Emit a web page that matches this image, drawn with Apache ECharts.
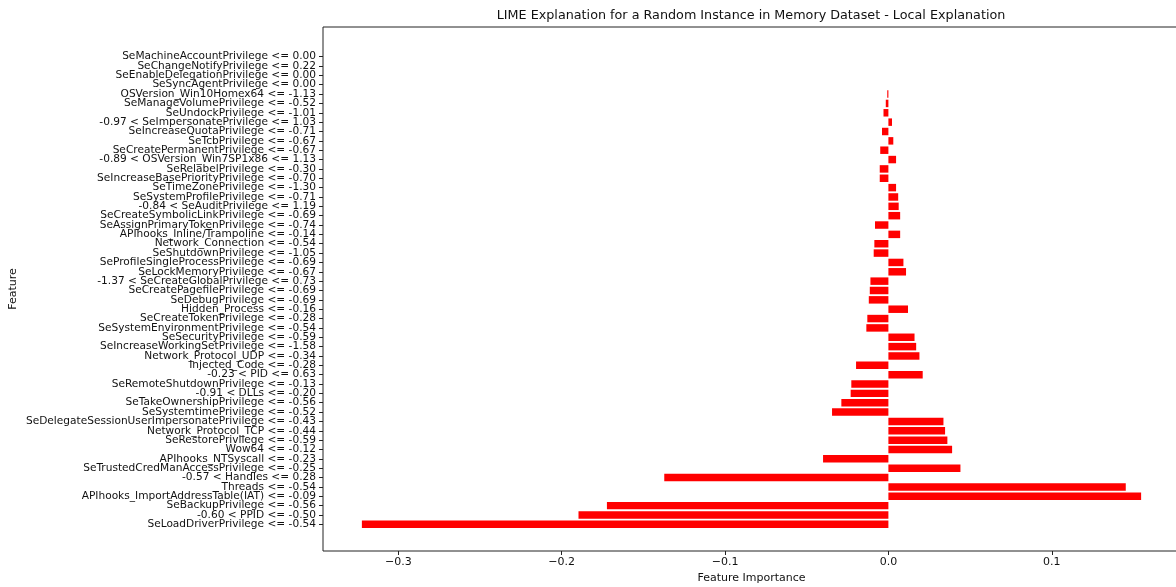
<!DOCTYPE html>
<html>
<head>
<meta charset="utf-8">
<script src="https://cdn.jsdelivr.net/npm/echarts@6/dist/echarts.min.js"></script>
<style>
html,body{margin:0;padding:0;background:#fff;}
#chart{width:1176px;height:587px;}
</style>
</head>
<body>
<div id="chart"></div>
<script>
// Features, top to bottom
var features = [
  "SeMachineAccountPrivilege <= 0.00",
  "SeChangeNotifyPrivilege <= 0.22",
  "SeEnableDelegationPrivilege <= 0.00",
  "SeSyncAgentPrivilege <= 0.00",
  "OSVersion_Win10Homex64 <= -1.13",
  "SeManageVolumePrivilege <= -0.52",
  "SeUndockPrivilege <= -1.01",
  "-0.97 < SeImpersonatePrivilege <= 1.03",
  "SeIncreaseQuotaPrivilege <= -0.71",
  "SeTcbPrivilege <= -0.67",
  "SeCreatePermanentPrivilege <= -0.67",
  "-0.89 < OSVersion_Win7SP1x86 <= 1.13",
  "SeRelabelPrivilege <= -0.30",
  "SeIncreaseBasePriorityPrivilege <= -0.70",
  "SeTimeZonePrivilege <= -1.30",
  "SeSystemProfilePrivilege <= -0.71",
  "-0.84 < SeAuditPrivilege <= 1.19",
  "SeCreateSymbolicLinkPrivilege <= -0.69",
  "SeAssignPrimaryTokenPrivilege <= -0.74",
  "APIhooks_Inline/Trampoline <= -0.14",
  "Network_Connection <= -0.54",
  "SeShutdownPrivilege <= -1.05",
  "SeProfileSingleProcessPrivilege <= -0.69",
  "SeLockMemoryPrivilege <= -0.67",
  "-1.37 < SeCreateGlobalPrivilege <= 0.73",
  "SeCreatePagefilePrivilege <= -0.69",
  "SeDebugPrivilege <= -0.69",
  "Hidden_Process <= -0.16",
  "SeCreateTokenPrivilege <= -0.28",
  "SeSystemEnvironmentPrivilege <= -0.54",
  "SeSecurityPrivilege <= -0.59",
  "SeIncreaseWorkingSetPrivilege <= -1.58",
  "Network_Protocol_UDP <= -0.34",
  "Injected_Code <= -0.28",
  "-0.23 < PID <= 0.63",
  "SeRemoteShutdownPrivilege <= -0.13",
  "-0.91 < DLLs <= -0.20",
  "SeTakeOwnershipPrivilege <= -0.56",
  "SeSystemtimePrivilege <= -0.52",
  "SeDelegateSessionUserImpersonatePrivilege <= -0.43",
  "Network_Protocol_TCP <= -0.44",
  "SeRestorePrivilege <= -0.59",
  "Wow64 <= -0.12",
  "APIhooks_NTSyscall <= -0.23",
  "SeTrustedCredManAccessPrivilege <= -0.25",
  "-0.57 < Handles <= 0.28",
  "Threads <= -0.54",
  "APIhooks_ImportAddressTable(IAT) <= -0.09",
  "SeBackupPrivilege <= -0.56",
  "-0.60 < PPID <= -0.50",
  "SeLoadDriverPrivilege <= -0.54"
];

// Feature importance, same order
var importance = [
  0, 0, 0, 0,
  -0.0007, -0.0016, -0.0030, 0.0022, -0.0039, 0.0030, -0.0050, 0.0047,
  -0.0053, -0.0053, 0.0047, 0.0060, 0.0063, 0.0072, -0.0082, 0.0072,
  -0.0086, -0.0090, 0.0092, 0.0108, -0.0110, -0.0114, -0.0120, 0.0120,
  -0.0129, -0.0135, 0.0160, 0.0170, 0.0190, -0.0198, 0.0210, -0.0227,
  -0.0231, -0.0288, -0.0345, 0.0337, 0.0347, 0.0361, 0.0390, -0.0400,
  0.0441, -0.1372, 0.1453, 0.1547, -0.1723, -0.1897, -0.3223
];

var xTicks = [-0.3, -0.2, -0.1, 0.0, 0.1];
var xMin = -0.3461, xMax = 0.1785;

var chart = echarts.init(document.getElementById('chart'), null, {renderer: 'canvas'});
var font = 'DejaVu Sans';

function fmt(v) {
  var s = (Math.abs(v) < 1e-9) ? '0.0' : String(Math.round(v * 10) / 10);
  return s.replace('-', '\u2212');
}

chart.setOption({
  animation: false,
  backgroundColor: '#fff',
  graphic: [{
    type: 'text',
    x: 751, y: 16,
    style: {
      text: 'LIME Explanation for a Random Instance in Memory Dataset - Local Explanation',
      font: '12.75px "DejaVu Sans"',
      fill: '#111',
      textAlign: 'center',
      textVerticalAlign: 'middle'
    }
  }],
  grid: [
    {left: 323, width: 857, top: 27, height: 524, outerBoundsMode: 'none', containLabel: false, show: true, borderColor: '#222', borderWidth: 1, backgroundColor: 'transparent'},
    {left: 323, width: 857, top: 52, height: 477, outerBoundsMode: 'none', containLabel: false}
  ],
  xAxis: [
    {
      gridIndex: 0, type: 'value', min: xMin, max: xMax,
      name: 'Feature Importance', nameLocation: 'middle', nameGap: 21,
      nameTextStyle: {fontFamily: font, fontSize: 11, color: '#111'},
      axisLine: {show: false},
      splitLine: {show: false},
      axisTick: {show: true, inside: false, length: 4, lineStyle: {color: '#222'}, customValues: xTicks},
      axisLabel: {fontFamily: font, fontSize: 11, color: '#111', margin: 6, customValues: xTicks, formatter: fmt}
    },
    {
      gridIndex: 1, type: 'value', min: xMin, max: xMax,
      show: false
    }
  ],
  yAxis: [
    {
      gridIndex: 0, type: 'value', min: 0, max: 1,
      name: 'Feature', nameLocation: 'middle', nameGap: 304, nameRotate: 90,
      nameTextStyle: {fontFamily: font, fontSize: 11, color: '#111'},
      axisLine: {show: false, onZero: false}, axisTick: {show: false}, axisLabel: {show: false}, splitLine: {show: false}
    },
    {
      gridIndex: 1, type: 'category', data: features, inverse: true,
      position: 'left',
      axisLine: {show: false, onZero: false},
      axisTick: {show: true, inside: false, length: 4, alignWithLabel: true, interval: 0, lineStyle: {color: '#222'}},
      axisLabel: {interval: 0, fontFamily: font, fontSize: 10.6, color: '#111', margin: 7, lineHeight: 10},
      splitLine: {show: false}
    }
  ],
  series: [{
    type: 'bar',
    xAxisIndex: 1, yAxisIndex: 1,
    data: importance,
    barWidth: '80%',
    itemStyle: {color: '#ff0000'}
  }]
});
</script>
</body>
</html>
